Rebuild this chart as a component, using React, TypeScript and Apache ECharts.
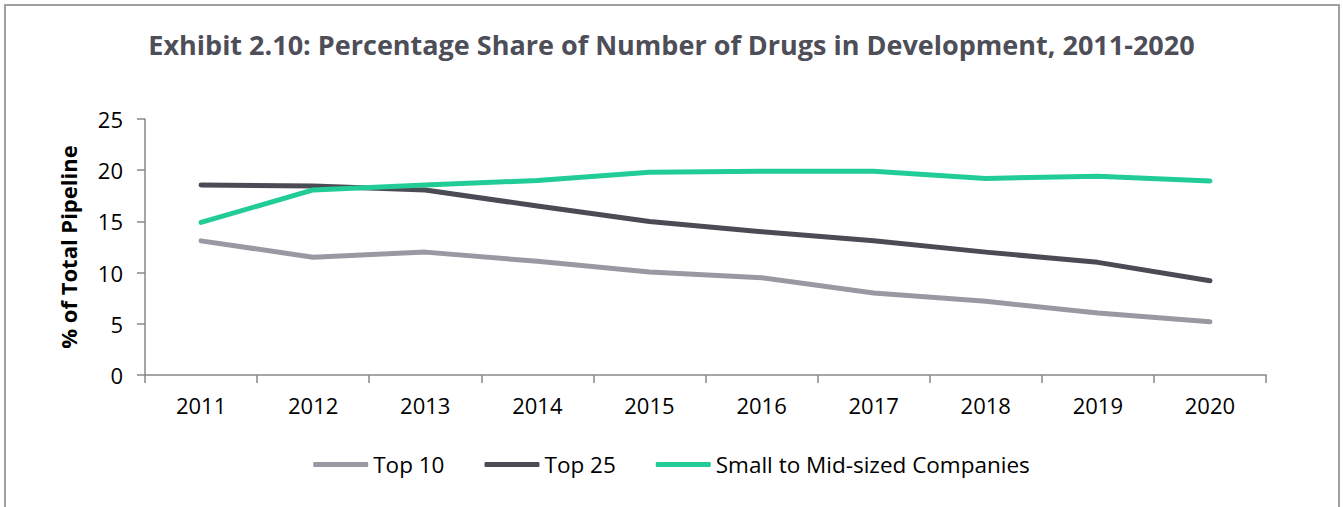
import React, { useEffect, useRef } from "react";
import * as echarts from "echarts";

const years = ["2011", "2012", "2013", "2014", "2015", "2016", "2017", "2018", "2019", "2020"];
const top10 = [13.1, 11.5, 12.0, 11.1, 10.05, 9.5, 8.0, 7.2, 6.05, 5.2];
const top25 = [18.55, 18.45, 18.07, 16.5, 15.0, 14.0, 13.1, 12.0, 11.0, 9.2];
const smallMid = [14.9, 18.07, 18.55, 19.0, 19.8, 19.9, 19.9, 19.2, 19.4, 18.95];
const seriesNames = ["Top 10", "Top 25", "Small to Mid-sized Companies"];
const colors = ["#9a99a3", "#4a4b55", "#22cc96"];

const FONT = "'Open Sans', Lato, sans-serif";

export default function App() {
  const ref = useRef<HTMLDivElement>(null);
  useEffect(() => {
    if (!ref.current) return;
    const chart = echarts.init(ref.current, null, { renderer: "svg" });
    const data = [top10, top25, smallMid];
    chart.setOption({
      animation: false,
      backgroundColor: "#ffffff",
      title: {
        text: "Exhibit 2.10: Percentage Share of Number of Drugs in Development, 2011-2020",
        left: "center",
        top: 26,
        textStyle: { fontFamily: FONT, fontWeight: "bold", fontSize: 27, color: "#4d4e58" },
      },
      legend: {
        bottom: 26,
        left: "center",
        itemWidth: 55,
        itemHeight: 5,
        itemGap: 40,
        icon: "roundRect",
        textStyle: { fontFamily: FONT, fontSize: 22.5, color: "#000000" },
        data: seriesNames,
      },
      grid: { left: 145, right: 77, top: 119, bottom: 132 },
      xAxis: {
        type: "category",
        data: years,
        boundaryGap: true,
        axisLine: { lineStyle: { color: "#888888", width: 1.5 } },
        axisTick: { show: true, length: 8, lineStyle: { color: "#888888", width: 1.5 } },
        axisLabel: { fontFamily: FONT, fontSize: 22, color: "#000000", margin: 19 },
      },
      yAxis: {
        type: "value",
        min: 0,
        max: 25,
        interval: 5,
        name: "% of Total Pipeline",
        nameLocation: "middle",
        nameGap: 66,
        nameTextStyle: { fontFamily: FONT, fontWeight: "bold", fontSize: 22, color: "#000000" },
        splitLine: { show: false },
        axisLine: { show: true, lineStyle: { color: "#888888", width: 1.5 } },
        axisTick: { show: true, length: 8, lineStyle: { color: "#888888", width: 1.5 } },
        axisLabel: { fontFamily: FONT, fontSize: 22, color: "#000000", margin: 22 },
      },
      series: seriesNames.map((name, i) => ({
        name,
        type: "line",
        data: data[i],
        symbol: "none",
        smooth: false,
        lineStyle: { color: colors[i], width: 5, cap: "round", join: "round" },
        itemStyle: { color: colors[i] },
      })),
      graphic: [
        {
          type: "rect",
          shape: { x: 5, y: 5, width: 1334, height: 600 },
          style: { fill: "none", stroke: "#a0a0a0", lineWidth: 2 },
          silent: true,
        },
      ],
    });
    return () => chart.dispose();
  }, []);
  return (
    <div
      ref={ref}
      style={{ position: "fixed", left: 0, top: 0, width: 1343, height: 507 }}
    />
  );
}
